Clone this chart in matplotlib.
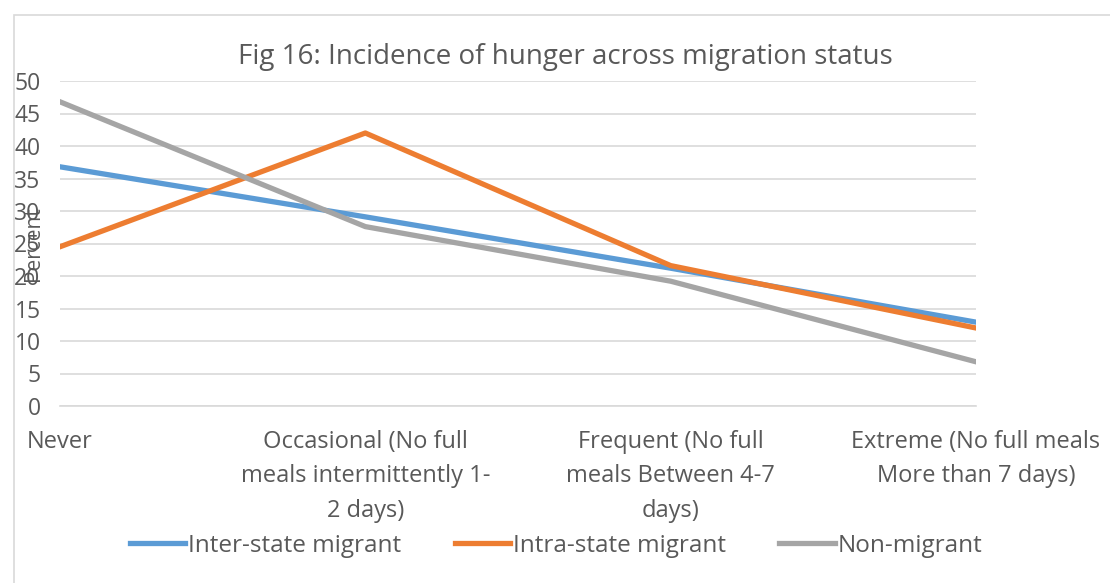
import matplotlib
matplotlib.use("Agg")
import matplotlib.pyplot as plt
from matplotlib.patches import Rectangle

# categories and series (percent)
categories = ["Never",
              "Occasional (No full\nmeals intermittently 1-\n2 days)",
              "Frequent (No full\nmeals Between 4-7\ndays)",
              "Extreme (No full meals\nMore than 7 days)"]
inter_state = [36.8, 29.1, 21.2, 12.9]
intra_state = [24.5, 42.0, 21.6, 12.0]
non_migrant = [46.8, 27.6, 19.2, 6.8]

plt.rcParams['font.family'] = ['Open Sans', 'DejaVu Sans']
txt = '#595959'

fig = plt.figure(figsize=(11.1, 5.83), dpi=100)
fig.patches.append(Rectangle((14 / 1110, -0.01), 1.0, 1 - 15 / 583 + 0.01,
                             transform=fig.transFigure, fill=False,
                             edgecolor='#d9d9d9', linewidth=1.2))
ax = fig.add_axes([60 / 1110, 1 - 406 / 583, 916 / 1110, 325 / 583])

x = range(len(categories))
ax.plot(x, inter_state, color='#5B9BD5', lw=3.8, label='Inter-state migrant')
ax.plot(x, intra_state, color='#ED7D31', lw=3.8, label='Intra-state migrant')
ax.plot(x, non_migrant, color='#A5A5A5', lw=3.8, label='Non-migrant')

ax.set_xlim(0, 3)
ax.set_ylim(0, 50)
ax.set_yticks(range(0, 51, 5))
ax.yaxis.grid(True, color='#d9d9d9', lw=1.2)
ax.set_axisbelow(True)
for s in ['top', 'right', 'left']:
    ax.spines[s].set_visible(False)
ax.spines['bottom'].set_color('#d9d9d9')
ax.spines['bottom'].set_linewidth(1.2)
ax.tick_params(axis='both', length=0, colors=txt)
ax.tick_params(axis='y', pad=14, labelsize=16.5)
ax.tick_params(axis='x', pad=17, labelsize=17)
ax.set_xticks(list(x))
ax.set_xticklabels(categories, linespacing=1.6)

ax.set_ylabel('Percent', color=txt, fontsize=15)
ax.yaxis.set_label_coords(-0.018, 0.5)

fig.suptitle('Fig 16: Incidence of hunger across migration status',
             y=1 - 57 / 583, va='center', x=565 / 1110, fontsize=20, color=txt)

fig.legend(loc='center', bbox_to_anchor=(556 / 1110, 1 - 546 / 583), ncol=3,
           frameon=False, fontsize=17.5, handlelength=2.3, handletextpad=0.1,
           columnspacing=2.2, labelcolor=txt)

fig.savefig('out.png', dpi=100)
